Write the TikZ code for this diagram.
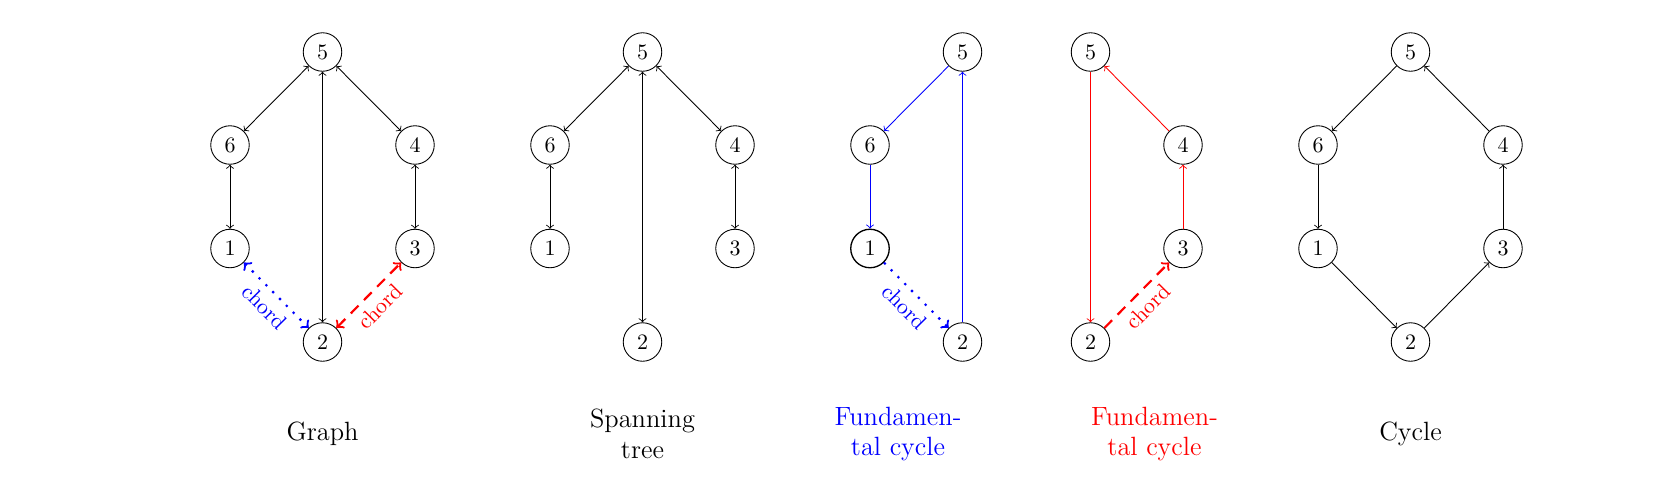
\documentclass[tikz,border=0pt]{standalone}
\usetikzlibrary{arrows}
\begin{document}
\begin{tikzpicture}[x=0.4545pt, y=-0.4545pt,
  vtx/.style={draw, circle, minimum size=17.5pt, inner sep=0pt, font=\normalsize},
  uni/.style={->},
  bi/.style={<->},
  lbl/.style={font=\large, align=center},
  chb/.style={blue, line width=1pt, dash pattern=on 1pt off 3.4pt},
  chr/.style={red, line width=1pt, dash pattern=on 5pt off 3.5pt},
  chlbl/.style={sloped, below, font=\normalsize}]
\useasboundingbox (0,0) rectangle (1660,488);

% ---------- Graph ----------
\node[vtx] (g5) at (322.5,52) {5};
\node[vtx] (g6) at (230,145) {6};
\node[vtx] (g4) at (415,145) {4};
\node[vtx] (g1) at (230,248.5) {1};
\node[vtx] (g3) at (415,248.5) {3};
\node[vtx] (g2) at (322.5,342) {2};
\draw[bi] (g5) -- (g6);
\draw[bi] (g5) -- (g4);
\draw[bi] (g6) -- (g1);
\draw[bi] (g4) -- (g3);
\draw[bi] (g5) -- (g2);
\draw[chb, <->] (g1) -- node[chlbl] {chord} (g2);
\draw[chr, <->] (g2) -- node[chlbl] {chord} (g3);
\node[lbl] (tg) at (322.5,434) {Graph};

% ---------- Spanning tree ----------
\node[vtx] (s5) at (642.5,52) {5};
\node[vtx] (s6) at (550,145) {6};
\node[vtx] (s4) at (735,145) {4};
\node[vtx] (s1) at (550,248.5) {1};
\node[vtx] (s3) at (735,248.5) {3};
\node[vtx] (s2) at (642.5,342) {2};
\draw[bi] (s5) -- (s6);
\draw[bi] (s5) -- (s4);
\draw[bi] (s6) -- (s1);
\draw[bi] (s4) -- (s3);
\draw[bi] (s5) -- (s2);
\node[lbl] (ts) at (642.5,434) {Spanning\\tree};

% ---------- Fundamental cycle (blue) ----------
\node[vtx] (b5) at (962.5,52) {5};
\node[vtx] (b6) at (870,145) {6};
\node[vtx, semithick] (b1) at (870,248.5) {1};
\node[vtx] (b2) at (962.5,342) {2};
\draw[uni, blue] (b5) -- (b6);
\draw[uni, blue] (b6) -- (b1);
\draw[uni, blue] (b2) -- (b5);
\draw[chb, ->] (b1) -- node[chlbl] {chord} (b2);
\node[lbl, blue] (tb) at (898,434) {Fundamen-\\tal cycle};

% ---------- Fundamental cycle (red) ----------
\node[vtx] (r5) at (1090.5,52) {5};
\node[vtx] (r4) at (1183,145) {4};
\node[vtx] (r3) at (1183,248.5) {3};
\node[vtx] (r2) at (1090.5,342) {2};
\draw[uni, red] (r5) -- (r2);
\draw[uni, red] (r3) -- (r4);
\draw[uni, red] (r4) -- (r5);
\draw[chr, ->] (r2) -- node[chlbl] {chord} (r3);
\node[lbl, red] (tr) at (1154.5,434) {Fundamen-\\tal cycle};

% ---------- Cycle ----------
\node[vtx] (c5) at (1410.5,52) {5};
\node[vtx] (c6) at (1318,145) {6};
\node[vtx] (c4) at (1503,145) {4};
\node[vtx] (c1) at (1318,248.5) {1};
\node[vtx] (c3) at (1503,248.5) {3};
\node[vtx] (c2) at (1410.5,342) {2};
\draw[uni] (c5) -- (c6);
\draw[uni] (c6) -- (c1);
\draw[uni] (c1) -- (c2);
\draw[uni] (c2) -- (c3);
\draw[uni] (c3) -- (c4);
\draw[uni] (c4) -- (c5);
\node[lbl] (tc) at (1410.5,434) {Cycle};
\end{tikzpicture}
\end{document}
